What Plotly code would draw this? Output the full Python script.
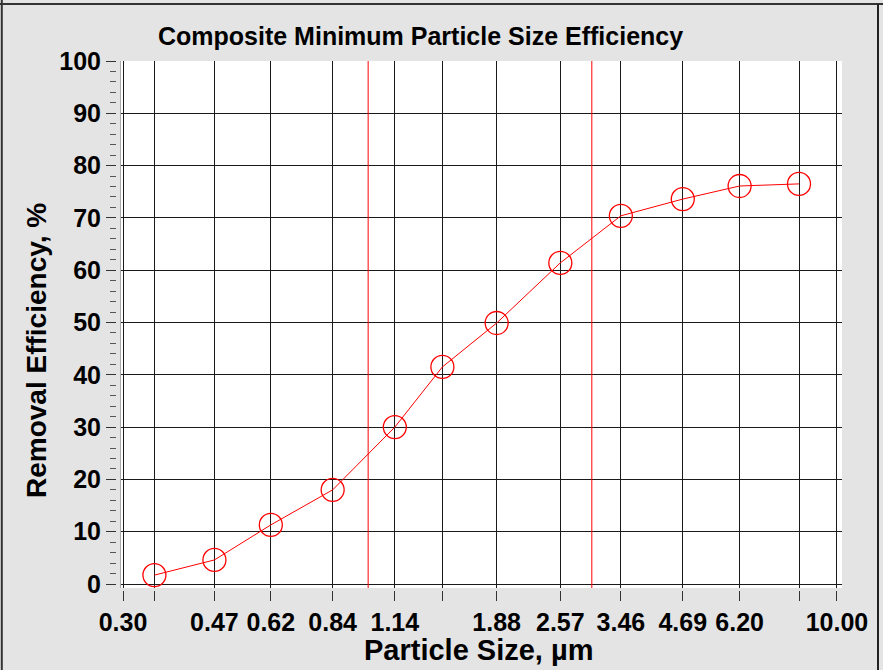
import plotly.graph_objects as go

# ---- data ----
particle_size = [0.35, 0.47, 0.62, 0.84, 1.14, 1.44, 1.88, 2.57, 3.46, 4.69, 6.20, 8.30]
efficiency = [1.7, 4.6, 11.3, 18.0, 30.0, 41.5, 49.9, 61.4, 70.4, 73.6, 76.1, 76.5]
tick_values = [0.30, 0.35, 0.47, 0.62, 0.84, 1.14, 1.44, 1.88, 2.57, 3.46, 4.69, 6.20, 8.30, 10.00]
tick_labels = ["0.30", "", "0.47", "0.62", "0.84", "1.14", "", "1.88", "2.57", "3.46", "4.69", "6.20", "", "10.00"]
reference_sizes = [1.0, 3.0]

W, H = 883, 670
FONT = "Liberation Sans, Arial, sans-serif"

def px(x):
    return x / W

def py(y):
    return (H - y) / H

fig = go.Figure()
fig.add_trace(go.Scatter(
    x=particle_size, y=efficiency, mode="lines+markers",
    line=dict(color="#ff0000", width=1),
    marker=dict(symbol="circle-open", size=23, color="#ff0000", line=dict(width=1.3, color="#ff0000")),
    showlegend=False, cliponaxis=False, hoverinfo="skip",
))

for r in reference_sizes:
    fig.add_shape(type="line", xref="x", yref="y domain", x0=r, x1=r, y0=0, y1=1,
                  line=dict(color="#ff0000", width=1))

# outer frame lines
fig.add_shape(type="line", xref="paper", yref="paper", x0=0, x1=1, y0=py(4), y1=py(4),
              line=dict(color="#333333", width=2))
fig.add_shape(type="line", xref="paper", yref="paper", x0=px(1.8), x1=px(1.8), y0=0, y1=1,
              line=dict(color="#333333", width=2))
fig.add_shape(type="line", xref="paper", yref="paper", x0=px(878), x1=px(878), y0=0, y1=py(4),
              line=dict(color="#222222", width=2))
# faint left edge of plot area
fig.add_shape(type="line", xref="paper", yref="paper", x0=px(120.5), x1=px(120.5), y0=py(588), y1=py(61),
              line=dict(color="#aaaaaa", width=1))

fig.update_layout(
    template="none",
    width=W, height=H,
    margin=dict(l=0, r=0, t=0, b=0, pad=0),
    paper_bgcolor="#e4e4e4",
    plot_bgcolor="#ffffff",
    hovermode=False,
    xaxis=dict(
        type="log",
        range=[-0.5272, 1.0108],
        domain=[px(121), px(842)],
        anchor="free", position=py(590),
        automargin=False,
        tickmode="array", tickvals=tick_values, ticktext=tick_labels,
        ticks="outside", ticklen=10, tickwidth=1, tickcolor="#333333",
        showgrid=True, gridcolor="#1a1a1a", gridwidth=1,
        showline=False, zeroline=False,
        tickfont=dict(family=FONT, size=25, color="#000000", weight="bold"),
    ),
    yaxis=dict(
        range=[-0.765, 100],
        domain=[py(588), py(61)],
        anchor="free", position=px(116),
        automargin=False,
        tickmode="linear", tick0=0, dtick=10,
        ticks="outside", ticklen=10, tickwidth=1, tickcolor="#333333",
        minor=dict(dtick=2, tick0=0, ticks="outside", ticklen=6, tickcolor="#555555", showgrid=False),
        showgrid=True, gridcolor="#1a1a1a", gridwidth=1,
        showline=False, zeroline=False,
        tickfont=dict(family=FONT, size=25, color="#000000", weight="bold"),
    ),
    annotations=[
        dict(text="Composite Minimum Particle Size Efficiency", xref="paper", yref="paper",
             x=px(420), y=py(36), xanchor="center", yanchor="middle", showarrow=False,
             font=dict(family=FONT, size=25, color="#000000", weight="bold")),
        dict(text="Particle Size, µm", xref="paper", yref="paper",
             x=px(478), y=py(650), xanchor="center", yanchor="middle", showarrow=False,
             font=dict(family=FONT, size=29, color="#000000", weight="bold")),
        dict(text="Removal Efficiency, %", xref="paper", yref="paper", textangle=-90,
             x=px(36), y=py(351), xanchor="center", yanchor="middle", showarrow=False,
             font=dict(family=FONT, size=28, color="#000000", weight="bold")),
    ],
)

fig.write_html(
    "out.html",
    config={"displayModeBar": False, "staticPlot": True},
    post_script="document.body.style.margin='0px';document.body.style.overflow='hidden';",
)
